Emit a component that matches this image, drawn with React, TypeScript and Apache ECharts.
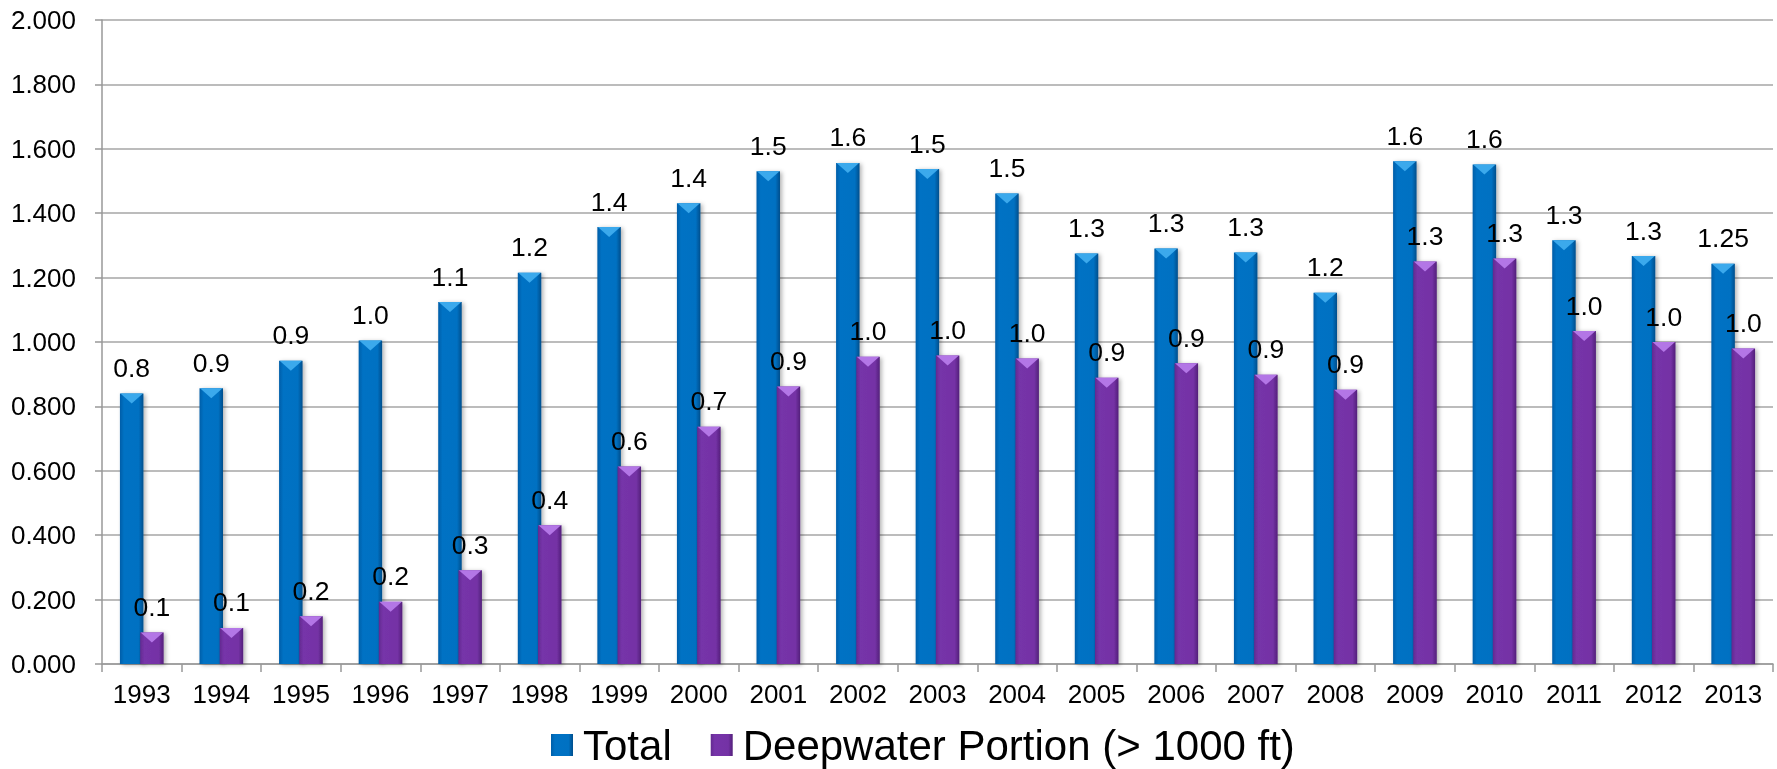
import React, { useEffect, useRef } from "react";
import * as echarts from "echarts";

const years = ["1993","1994","1995","1996","1997","1998","1999","2000","2001","2002","2003","2004","2005","2006","2007","2008","2009","2010","2011","2012","2013"];
const totalValues = [0.840,0.856,0.942,1.005,1.124,1.215,1.357,1.431,1.530,1.556,1.537,1.461,1.275,1.290,1.278,1.153,1.561,1.551,1.316,1.267,1.243];
const deepValues = [0.098,0.112,0.148,0.193,0.291,0.431,0.613,0.737,0.862,0.954,0.958,0.949,0.889,0.934,0.898,0.852,1.250,1.259,1.034,1.000,0.980];
const totalLabels = ["0.8","0.9","0.9","1.0","1.1","1.2","1.4","1.4","1.5","1.6","1.5","1.5","1.3","1.3","1.3","1.2","1.6","1.6","1.3","1.3","1.25"];
const deepLabels = ["0.1","0.1","0.2","0.2","0.3","0.4","0.6","0.7","0.9","1.0","1.0","1.0","0.9","0.9","0.9","0.9","1.3","1.3","1.0","1.0","1.0"];
const seriesNames = ["Total", "Deepwater Portion (> 1000 ft)"];

const FONT = "'Liberation Sans', Arial, sans-serif";
const BAR_W = 23.5;
const OFFSET = 10.1;

function grad(stops: [number, string][]) {
  return new echarts.graphic.LinearGradient(0, 0, 1, 0, stops.map(([offset, color]) => ({ offset, color })));
}

export default function App() {
  const ref = useRef<HTMLDivElement>(null);
  useEffect(() => {
    if (!ref.current) return;
    const chart = echarts.init(ref.current, undefined, { renderer: "svg" });
    const blue = grad([[0, "#005EA8"], [0.18, "#0072C4"], [0.8, "#0071C2"], [1, "#004E8C"]]);
    const purple = grad([[0, "#632A90"], [0.18, "#7634A9"], [0.8, "#7432A5"], [1, "#53207A"]]);
    const label = (labels: string[]) => ({
      show: true,
      position: "top",
      distance: 12,
      fontSize: 26.5,
      fontFamily: FONT,
      color: "#000",
      formatter: (p: any) => labels[p.dataIndex],
    });
    chart.setOption({
      animation: false,
      grid: { left: 102, right: 4, top: 20, bottom: 105, containLabel: false },
      legend: {
        data: seriesNames,
        left: 546,
        top: 719,
        icon: "rect",
        itemWidth: 22,
        itemHeight: 22,
        itemGap: 39,
        textStyle: { fontSize: 42, lineHeight: 42, fontFamily: FONT, color: "#000", padding: [0, 0, 0, 5] },
      },
      xAxis: {
        type: "category",
        data: years,
        axisLine: { lineStyle: { color: "#999", width: 1.5 } },
        axisTick: { show: true, length: 8, lineStyle: { color: "#999", width: 1.5 } },
        axisLabel: { fontSize: 26, fontFamily: FONT, color: "#000", margin: 17 },
      },
      yAxis: {
        type: "value",
        min: 0,
        max: 2,
        interval: 0.2,
        axisLine: { show: true, lineStyle: { color: "#999", width: 1.5 } },
        axisTick: { show: true, length: 7, lineStyle: { color: "#999", width: 1.5 } },
        splitLine: { lineStyle: { color: "#A6A6A6", width: 1.5 } },
        axisLabel: { fontSize: 26, fontFamily: FONT, color: "#000", margin: 26, formatter: (v: number) => v.toFixed(3) },
      },
      series: [
        {
          name: seriesNames[0],
          type: "bar",
          data: totalValues,
          barWidth: BAR_W,
          barGap: "-14%",
          itemStyle: { color: blue, shadowColor: "rgba(0,0,0,0.3)", shadowBlur: 4, shadowOffsetX: 2, shadowOffsetY: 1 },
          label: label(totalLabels),
          z: 2,
        },
        {
          name: seriesNames[1],
          type: "bar",
          data: deepValues,
          barWidth: BAR_W,
          barGap: "-14%",
          itemStyle: { color: purple, shadowColor: "rgba(0,0,0,0.3)", shadowBlur: 4, shadowOffsetX: 2, shadowOffsetY: 1 },
          label: label(deepLabels),
          z: 2,
        },
        {
          name: "totalTop",
          type: "scatter",
          data: totalValues,
          symbol: "triangle",
          symbolRotate: 180,
          symbolSize: [BAR_W - 1, 10],
          symbolOffset: [-OFFSET, 5],
          itemStyle: { color: "#3BA9EC", opacity: 1 },
          silent: true,
          z: 3,
        },
        {
          name: "deepTop",
          type: "scatter",
          data: deepValues,
          symbol: "triangle",
          symbolRotate: 180,
          symbolSize: [BAR_W - 1, 10],
          symbolOffset: [OFFSET, 5],
          itemStyle: { color: "#B376E6", opacity: 1 },
          silent: true,
          z: 3,
        },
      ],
    });
    return () => chart.dispose();
  }, []);
  return <div ref={ref} style={{ position: "fixed", left: 0, top: 0, width: 1777, height: 769 }} />;
}
